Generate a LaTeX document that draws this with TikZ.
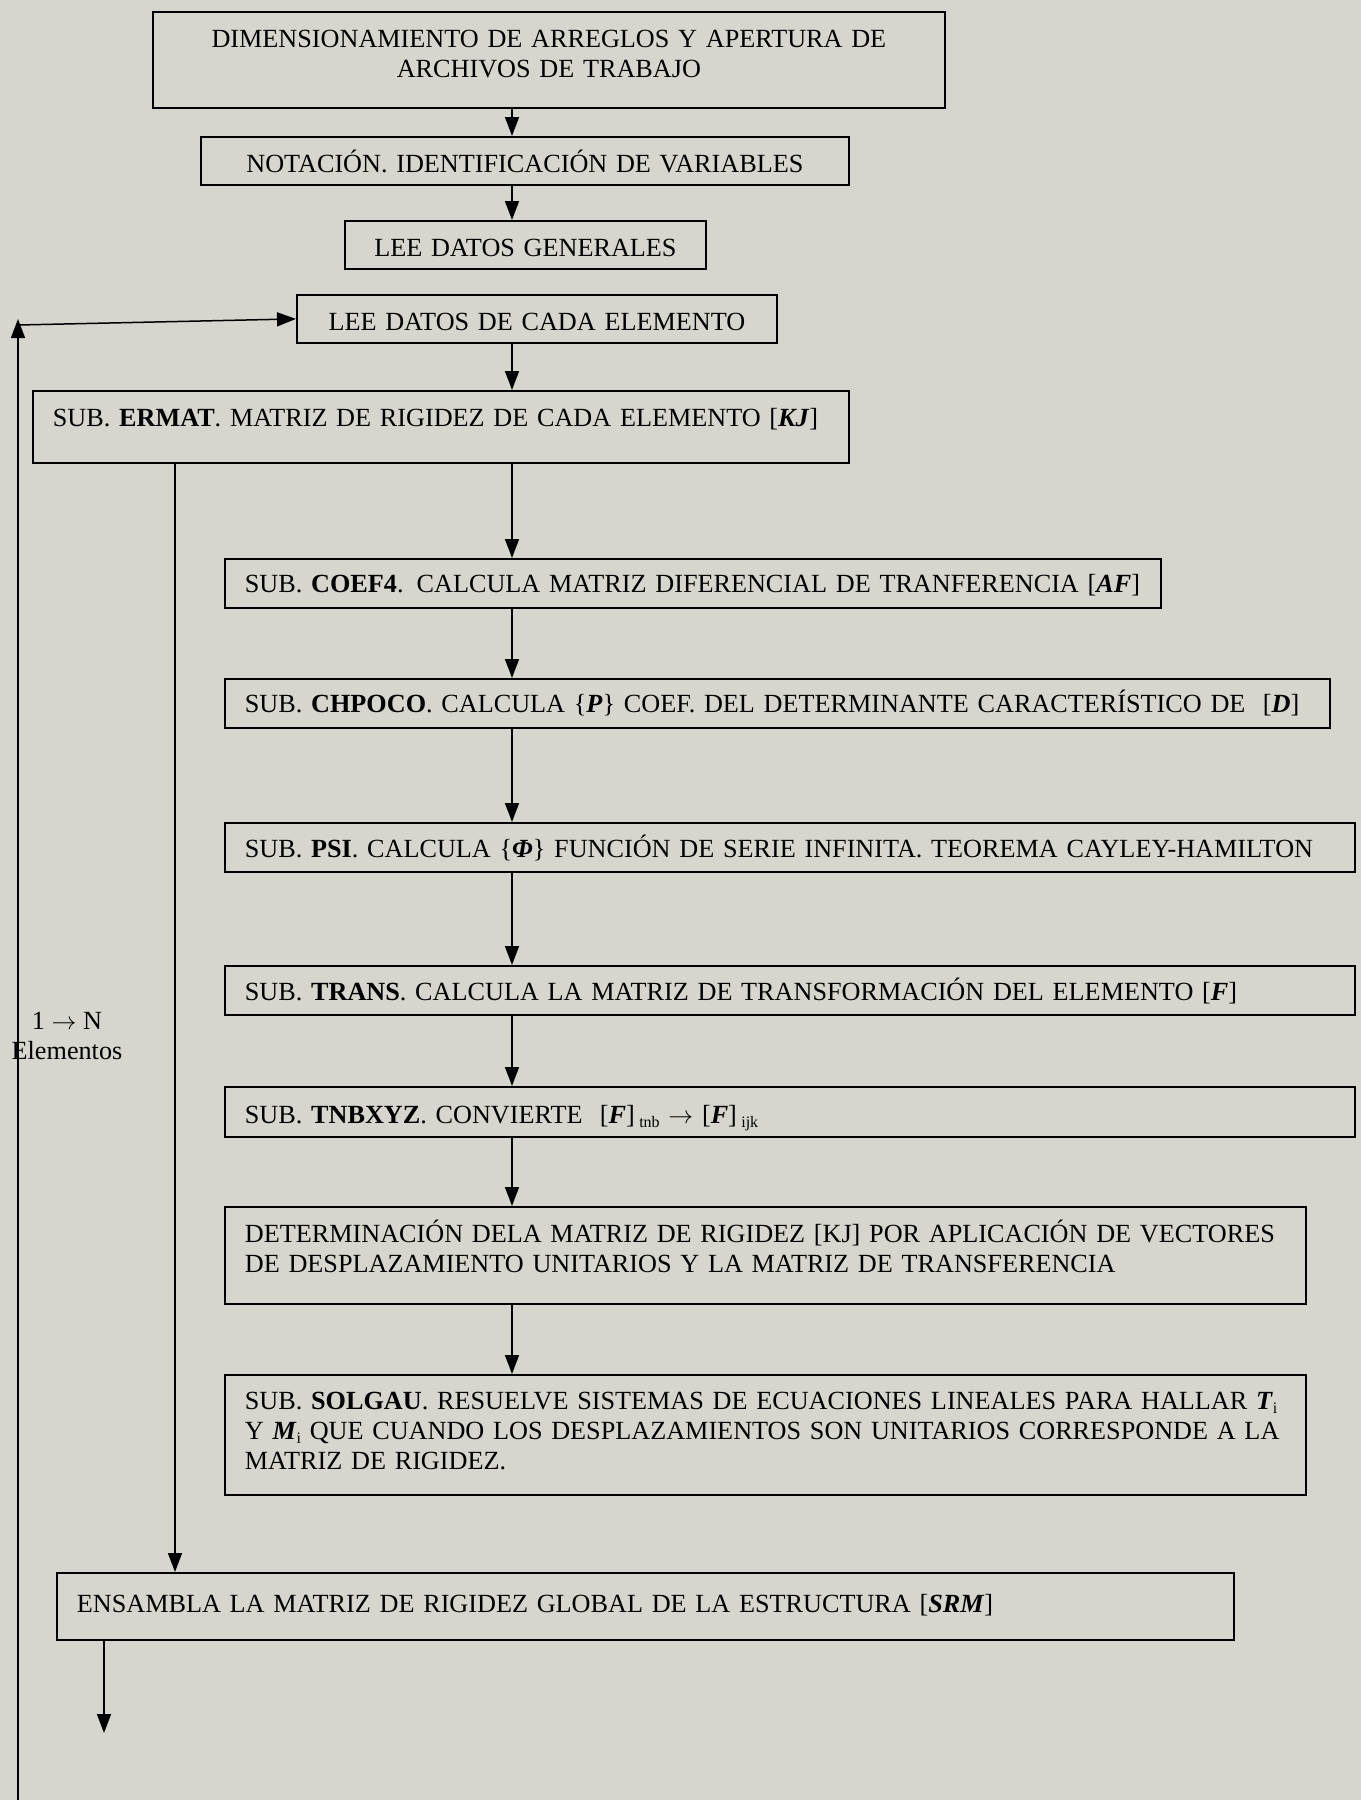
\documentclass[tikz,border=0pt]{standalone}
\usepackage{fontspec}
\setmainfont{Liberation Serif}
\usetikzlibrary{arrows.meta}
\definecolor{bg}{RGB}{214,214,206}
\newcommand{\bi}[1]{\textbf{\textit{#1}}}
\newcommand{\subs}[1]{\raisebox{-4pt}{\fontsize{16}{16}\selectfont #1}}
\tikzset{
  flowbox/.style={draw=black, line width=1.8pt, anchor=north west, inner ysep=0pt,
    font=\fontsize{26.2}{30}\selectfont},
  cbox/.style={flowbox, align=center, inner xsep=4pt},
  lbox/.style={flowbox, align=left, inner xsep=20pt},
  conn/.style={line width=1.5pt, -{Triangle[length=19pt,width=14pt]}},
  lbltext/.style={font=\fontsize{26.2}{30}\selectfont, align=center, inner sep=0pt}
}
\begin{document}
\begin{tikzpicture}[x=1pt,y=-1pt]
\fill[bg] (0,0) rectangle (1361,1800);
\useasboundingbox (0,0) rectangle (1361,1800);

\coordinate (spine) at (512,0);
\coordinate (side) at (175,0);

\node[cbox, text width=784pt, text height=36pt, text depth=60pt] (b1) at (152,11)
  {DIMENSIONAMIENTO DE ARREGLOS Y APERTURA DE\\ARCHIVOS DE TRABAJO};
\node[cbox, text width=640pt, text height=36pt, text depth=12pt] (b2) at (200,136)
  {NOTACIÓN. IDENTIFICACIÓN DE VARIABLES};
\node[cbox, text width=353pt, text height=36pt, text depth=12pt] (b3) at (344,220)
  {LEE DATOS GENERALES};
\node[cbox, text width=472pt, text height=36pt, text depth=12pt] (b4) at (296,294)
  {LEE DATOS DE CADA ELEMENTO};
\node[lbox, text width=776pt, text height=36pt, text depth=36pt] (b5) at (32,390)
  {\mbox{SUB. \textbf{ERMAT}. MATRIZ DE RIGIDEZ DE CADA ELEMENTO [\bi{KJ}]}};
\node[lbox, text width=896pt, text height=34pt, text depth=15pt] (b6) at (224,558)
  {\mbox{SUB. \textbf{COEF4}. CALCULA MATRIZ DIFERENCIAL DE TRANFERENCIA [\bi{AF}]}};
\node[lbox, text width=1065pt, text height=34pt, text depth=15pt] (b7) at (224,678)
  {\mbox{SUB. \textbf{CHPOCO}. CALCULA \{\bi{P}\} COEF. DEL DETERMINANTE CARACTERÍSTICO DE \ [\bi{D}]}};
\node[lbox, text width=1090pt, text height=35pt, text depth=14pt] (b8) at (224,822)
  {\mbox{SUB. \textbf{PSI}. CALCULA \{\bi{Φ}\} FUNCIÓN DE SERIE INFINITA. TEOREMA CAYLEY-HAMILTON}};
\node[lbox, text width=1090pt, text height=35pt, text depth=14pt] (b9) at (224,965)
  {\mbox{SUB. \textbf{TRANS}. CALCULA LA MATRIZ DE TRANSFORMACIÓN DEL ELEMENTO [\bi{F}]}};
\node[lbox, text width=1090pt, text height=37pt, text depth=13pt] (b10) at (224,1086)
  {\mbox{SUB. \textbf{TNBXYZ}. CONVIERTE \ [\bi{F}]\,\subs{tnb} $\rightarrow$ [\bi{F}]\,\subs{ijk}}};
\node[lbox, text width=1041pt, text height=36pt, text depth=61pt] (b11) at (224,1206)
  {\mbox{DETERMINACIÓN DELA MATRIZ DE RIGIDEZ [KJ] POR APLICACIÓN DE VECTORES}\\
   \mbox{DE DESPLAZAMIENTO UNITARIOS Y LA MATRIZ DE TRANSFERENCIA}};
\node[lbox, text width=1041pt, text height=35pt, text depth=85pt] (b12) at (224,1374)
  {\mbox{SUB. \textbf{SOLGAU}. RESUELVE SISTEMAS DE ECUACIONES LINEALES PARA HALLAR \bi{T}\subs{i}}\\
   \mbox{Y \bi{M}\subs{i} QUE CUANDO LOS DESPLAZAMIENTOS SON UNITARIOS CORRESPONDE A LA}\\
   \mbox{MATRIZ DE RIGIDEZ.}};
\node[lbox, text width=1137pt, text height=40pt, text depth=27pt] (b13) at (56,1572)
  {\mbox{ENSAMBLA LA MATRIZ DE RIGIDEZ GLOBAL DE LA ESTRUCTURA [\bi{SRM}]}};

\node[lbltext, anchor=north] (lbl) at (67,1012) {1 $\rightarrow$ N\\Elementos};

% main spine
\draw[conn] (b1.south -| spine) -- (b2.north -| spine);
\draw[conn] (b2.south -| spine) -- (b3.north -| spine);
\draw[conn] (b4.south -| spine) -- (b5.north -| spine);
\draw[conn] (b5.south -| spine) -- (b6.north -| spine);
\draw[conn] (b6.south -| spine) -- (b7.north -| spine);
\draw[conn] (b7.south -| spine) -- (b8.north -| spine);
\draw[conn] (b8.south -| spine) -- (b9.north -| spine);
\draw[conn] (b9.south -| spine) -- (b10.north -| spine);
\draw[conn] (b10.south -| spine) -- (b11.north -| spine);
\draw[conn] (b11.south -| spine) -- (b12.north -| spine);
% side branch
\draw[conn] (b5.south -| side) -- (b13.north -| side);
% exit
\coordinate (exitend) at (104,1733);
\draw[conn] (b13.south -| exitend) -- (exitend);
% loop
\coordinate (loopbot) at (18,1800);
\coordinate (looptop) at (18,319);
\coordinate (loopjoin) at (18,325);
\draw[conn] (loopbot) -- (looptop);
\draw[conn] (loopjoin) -- (b4.west);
\end{tikzpicture}
\end{document}
